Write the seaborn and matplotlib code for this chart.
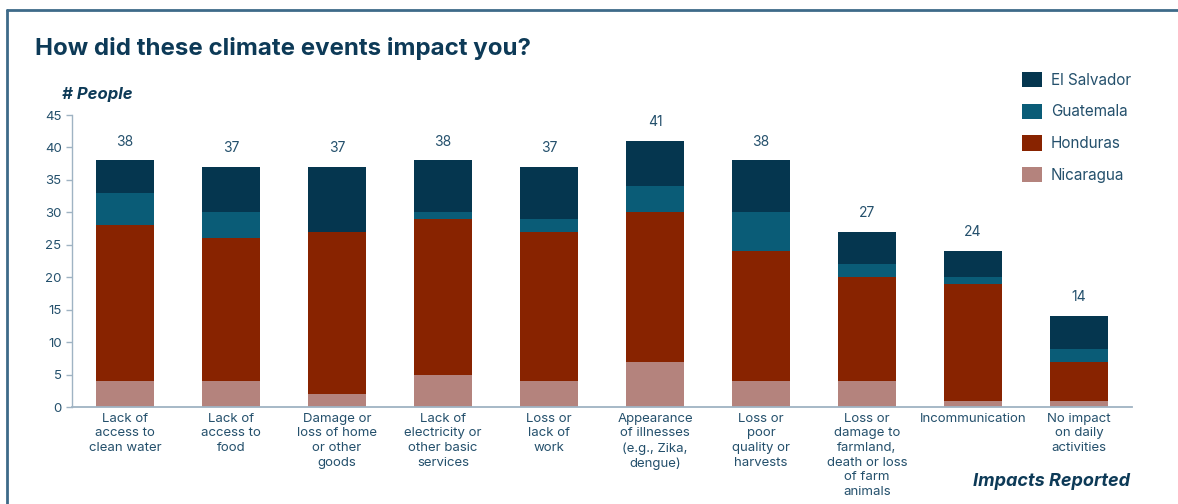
import pandas as pd
import numpy as np
import matplotlib
matplotlib.use("Agg")
import matplotlib.pyplot as plt
import seaborn as sns
from matplotlib.lines import Line2D
from matplotlib.patches import Patch

# Data
impacts = [
    "Lack of\naccess to\nclean water",
    "Lack of\naccess to\nfood",
    "Damage or\nloss of home\nor other\ngoods",
    "Lack of\nelectricity or\nother basic\nservices",
    "Loss or\nlack of\nwork",
    "Appearance\nof illnesses\n(e.g., Zika,\ndengue)",
    "Loss or\npoor\nquality or\nharvests",
    "Loss or\ndamage to\nfarmland,\ndeath or loss\nof farm\nanimals",
    "Incommunication",
    "No impact\non daily\nactivities",
]
nicaragua = [4, 4, 2, 5, 4, 7, 4, 4, 1, 1]
honduras = [24, 22, 25, 24, 23, 23, 20, 16, 18, 6]
guatemala = [5, 4, 0, 1, 2, 4, 6, 2, 1, 2]
el_salvador = [5, 7, 10, 8, 8, 7, 8, 5, 4, 5]

countries = ["El Salvador", "Guatemala", "Honduras", "Nicaragua"]
colors = {
    "El Salvador": "#05364f",
    "Guatemala": "#0a5c77",
    "Honduras": "#882300",
    "Nicaragua": "#b4837d",
}
TEXT = "#24506c"
TITLE = "#0d3a57"

sns.set_style("white")
plt.rcParams["font.family"] = ["Inter", "DejaVu Sans"]

df = pd.DataFrame({
    "impact": impacts,
    "Nicaragua": nicaragua,
    "Honduras": honduras,
    "Guatemala": guatemala,
    "El Salvador": el_salvador,
})
# cumulative heights, drawn from the tallest layer down so each one covers the previous
df["cum_nic"] = df["Nicaragua"]
df["cum_hon"] = df["cum_nic"] + df["Honduras"]
df["cum_gua"] = df["cum_hon"] + df["Guatemala"]
df["cum_es"] = df["cum_gua"] + df["El Salvador"]

fig = plt.figure(figsize=(11.78, 5.04), dpi=100)
ax = fig.add_axes([72 / 1178, 1 - 407 / 504, (1132 - 72) / 1178, (407 - 115) / 504])

layers = [("cum_es", "El Salvador"), ("cum_gua", "Guatemala"),
          ("cum_hon", "Honduras"), ("cum_nic", "Nicaragua")]
for col, name in layers:
    sns.barplot(data=df, x="impact", y=col, color=colors[name], width=0.55,
                saturation=1, linewidth=0, ax=ax)

# totals above the bars
for i, tot in enumerate(df["cum_es"]):
    ax.text(i, tot + 2.9, str(tot), ha="center", va="center",
            fontsize=10, color=TEXT)

ax.set_xlim(-0.5, 9.5)
ax.set_ylim(0, 45)
ax.set_yticks(np.arange(0, 46, 5))
ax.set_xlabel("")
ax.set_ylabel("")
ax.tick_params(axis="y", labelsize=9.5, labelcolor=TEXT, color="#9fb3c3",
               length=4, width=1, direction="out", left=True)
ax.tick_params(axis="x", labelsize=9.5, labelcolor=TEXT, length=0, pad=4)
for lbl in ax.get_xticklabels():
    lbl.set_linespacing(1.3)
sns.despine(ax=ax, top=True, right=True)
ax.spines["left"].set_color("#9fb3c3")
ax.spines["bottom"].set_color("#9fb3c3")
ax.spines["left"].set_linewidth(1)
ax.spines["bottom"].set_linewidth(1.3)

# legend
handles = [Patch(facecolor=colors[c], edgecolor="none", label=c) for c in countries]
fig.legend(handles=handles, loc="upper left", bbox_to_anchor=(1008 / 1178, 1 - 58 / 504),
           frameon=False, fontsize=11, labelcolor=TEXT, handlelength=1.35,
           handleheight=1.15, handletextpad=0.55, labelspacing=1.05)

# titles and axis captions
fig.text(35 / 1178, 1 - 48 / 504, "How did these climate events impact you?",
         fontsize=17.3, fontweight="bold", color=TITLE, va="center", ha="left")
fig.text(62 / 1178, 1 - 95 / 504, "# People", fontsize=12, fontweight="bold",
         fontstyle="italic", color=TITLE, va="center", ha="left")
fig.text(1130 / 1178, 1 - 482 / 504, "Impacts Reported", fontsize=13,
         fontweight="bold", fontstyle="italic", color=TITLE, va="center", ha="right")

# frame lines along top and left edge
fig.add_artist(Line2D([7 / 1178, 1], [1 - 10 / 504, 1 - 10 / 504],
                      transform=fig.transFigure, color="#3d6a89", lw=2))
fig.add_artist(Line2D([7 / 1178, 7 / 1178], [0, 1 - 10 / 504],
                      transform=fig.transFigure, color="#3d6a89", lw=2))

fig.savefig("out.png", dpi=100)
plt.close(fig)
